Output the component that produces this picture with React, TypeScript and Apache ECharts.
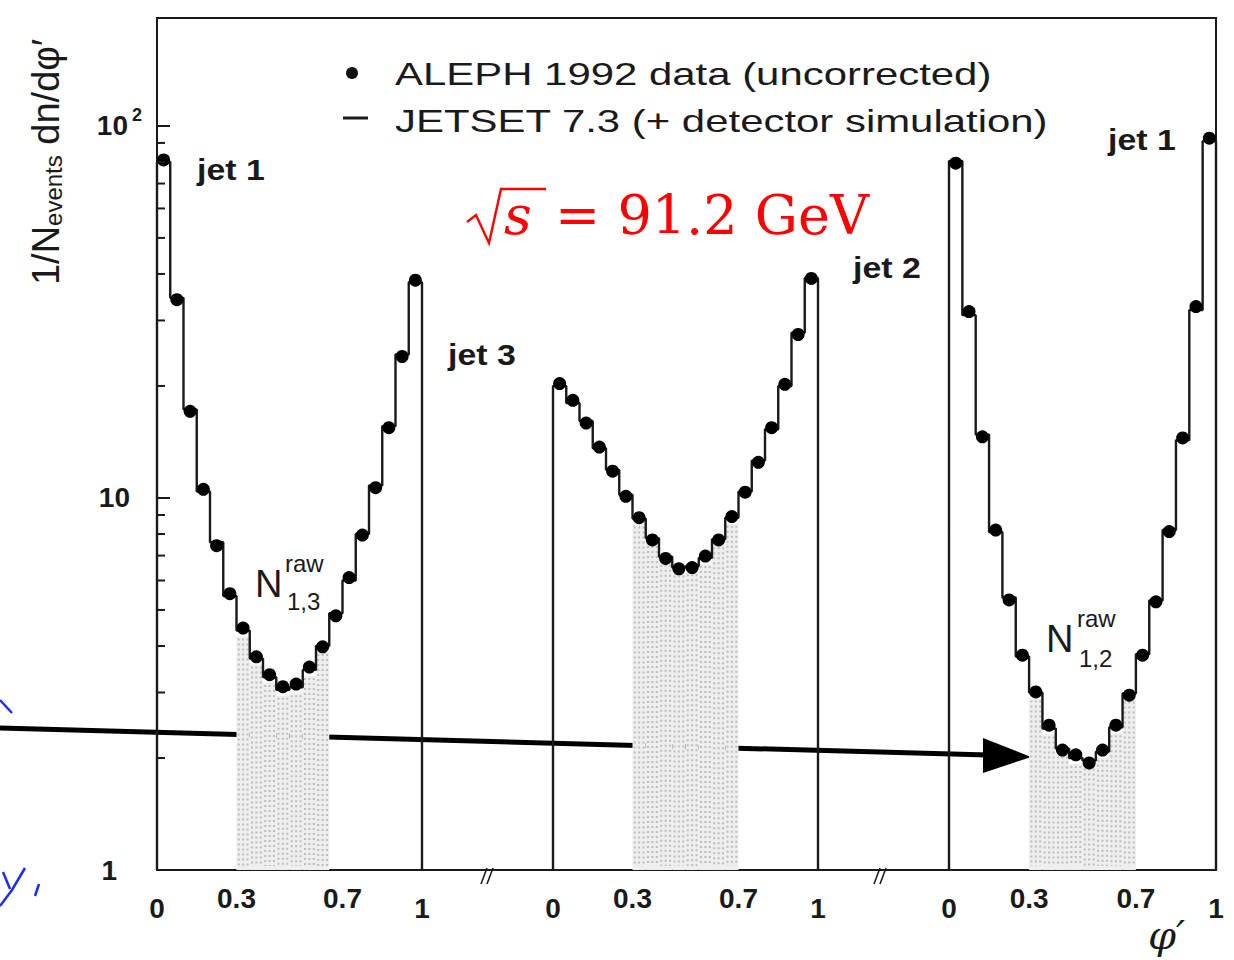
import React, { useEffect, useRef } from "react";
import * as echarts from "echarts";

// ---------- data ----------
const BIN_COUNT = 20;
const xTickValues = [0, 0.3, 0.7, 1];
const xTickLabels = ["0", "0.3", "0.7", "1"];
const yMin = 1;
const yMax = 195;
const yMajorTickValues = [10, 100];
const yMinorValues = [2, 3, 4, 5, 6, 7, 8, 9, 20, 30, 40, 50, 60, 70, 80, 90];

// panel 1 : N_{1,3}  (jet 1 -> jet 3)
const dataP1 = [81.0, 34.1, 17.1, 10.55, 7.44, 5.53, 4.47, 3.74, 3.35, 3.11, 3.16, 3.51, 3.98, 4.82, 6.11, 7.95, 10.66, 15.45, 24.0, 38.5];
const mcP1 = [80.0, 34.5, 17.3, 10.4, 7.6, 5.45, 4.4, 3.7, 3.3, 3.05, 3.1, 3.45, 4.0, 4.9, 6.0, 8.0, 10.8, 15.6, 24.3, 38.0];
const bandP1 = [6, 12];

// panel 2 : jet 3 -> jet 2
const dataP2 = [20.3, 18.3, 15.9, 13.7, 11.8, 10.1, 8.85, 7.71, 6.88, 6.45, 6.5, 6.98, 7.71, 8.91, 10.36, 12.47, 15.45, 20.2, 27.5, 38.9];
const mcP2 = [20.0, 18.0, 16.1, 13.6, 11.9, 10.2, 8.8, 7.8, 6.95, 6.5, 6.55, 6.9, 7.75, 8.85, 10.4, 12.6, 15.3, 20.0, 27.8, 39.0];
const bandP2 = [6, 13];

// panel 3 : N_{1,2} (jet 2 -> jet 1)
const dataP3 = [79.4, 31.7, 14.6, 8.2, 5.32, 3.78, 3.01, 2.45, 2.1, 2.04, 1.94, 2.1, 2.45, 2.95, 3.78, 5.26, 8.12, 14.5, 32.7, 92.7];
const mcP3 = [80.5, 31.0, 14.8, 8.1, 5.4, 3.75, 3.0, 2.4, 2.12, 2.0, 1.97, 2.08, 2.42, 2.98, 3.8, 5.3, 8.2, 14.3, 32.0, 91.0];
const bandP3 = [6, 13];

const legendDataText = "ALEPH 1992 data (uncorrected)";
const legendMcText = "JETSET 7.3 (+ detector simulation)";

// ---------- layout ----------
const panelLeft = [157, 553, 949];
const panelWidth = [265, 265, 267];
const plotTop = 18;
const plotHeight = 852;
const INK = "#1a1a1a";
const SANS = "Liberation Sans, Arial, sans-serif";
const SERIF = "DejaVu Serif, serif";

const panels = [
  { data: dataP1, mc: mcP1, band: bandP1 },
  { data: dataP2, mc: mcP2, band: bandP2 },
  { data: dataP3, mc: mcP3, band: bandP3 },
];

const binW = 1 / BIN_COUNT;

function histPoints(mc: number[]) {
  const pts: number[][] = [[0, yMin]];
  mc.forEach((v, i) => {
    pts.push([i * binW, v]);
    pts.push([(i + 1) * binW, v]);
  });
  pts.push([1, yMin]);
  return pts;
}

function fmtX(v: number) {
  const idx = xTickValues.findIndex((t) => Math.abs(t - v) < 1e-6);
  if (idx < 0) return "";
  const s = xTickLabels[idx];
  if (idx === 0 || idx === xTickValues.length - 1) return "{lo|" + s + "}";
  return s;
}

function fmtY(v: number) {
  const k = Math.log10(v);
  if (Math.abs(k - Math.round(k)) > 1e-6) return "";
  const e = Math.round(k);
  if (e === 0) return "{p25|1}";
  if (e === 1) return "{p12|10}";
  if (e === 2) return "10{s|2}";
  return "";
}

function buildOption() {
  const grid: any[] = [
    {
      left: panelLeft[0],
      top: plotTop,
      width: panelLeft[2] + panelWidth[2] - panelLeft[0],
      height: plotHeight,
      show: true,
      borderColor: INK,
      borderWidth: 2,
      backgroundColor: "transparent",
    },
  ];
  const xAxis: any[] = [{ type: "value", gridIndex: 0, show: false, min: 0, max: 1 }];
  const yAxis: any[] = [{ type: "value", gridIndex: 0, show: false, min: 0, max: 1 }];
  const series: any[] = [];

  panels.forEach((p, k) => {
    const gi = k + 1;
    grid.push({ left: panelLeft[k], top: plotTop, width: panelWidth[k], height: plotHeight, show: false });
    xAxis.push({
      type: "value",
      gridIndex: gi,
      min: 0,
      max: 1,
      interval: 0.1,
      axisLine: { show: false },
      axisTick: { show: false },
      splitLine: { show: false },
      axisLabel: {
        formatter: fmtX,
        fontFamily: SANS,
        fontWeight: "bold",
        fontSize: 28,
        color: INK,
        margin: 14,
        rich: { lo: { padding: [10, 0, 0, 0], fontFamily: SANS, fontWeight: "bold", fontSize: 28, color: INK } },
      },
    });
    yAxis.push({
      type: "log",
      logBase: 10,
      gridIndex: gi,
      min: yMin,
      max: yMax,
      axisLine: { show: k === 0, lineStyle: { color: INK, width: 2 } },
      splitLine: { show: false },
      minorTick: { show: false },
      axisTick: { show: k === 0, inside: true, length: 13, lineStyle: { color: INK, width: 2 } },
      axisLabel: {
        show: k === 0,
        formatter: fmtY,
        fontFamily: SANS,
        fontWeight: "bold",
        fontSize: 28,
        color: INK,
        margin: 15,
        rich: {
          p25: { padding: [0, 25, 0, 0], fontFamily: SANS, fontWeight: "bold", fontSize: 28, color: INK },
          p12: { padding: [0, 12, 0, 0], fontFamily: SANS, fontWeight: "bold", fontSize: 28, color: INK },
          s: { fontSize: 18, verticalAlign: "top", padding: [0, 0, 22, 4], fontFamily: SANS, fontWeight: "bold", color: INK },
        },
      },
    });

    // gray simulation band (dotted texture) + (panel 1) minor log ticks
    const bandData: number[][] = [];
    for (let i = p.band[0]; i <= p.band[1]; i++) bandData.push([i * binW, (i + 1) * binW, p.mc[i]]);
    series.push({
      type: "custom",
      xAxisIndex: gi,
      yAxisIndex: gi,
      z: 1,
      silent: true,
      data: bandData,
      renderItem: (params: any, api: any) => {
        const a = api.coord([api.value(0), yMin]);
        const b = api.coord([api.value(1), api.value(2)]);
        const top = b[1] + 6;
        const children: any[] = [
          { type: "rect", shape: { x: a[0], y: top, width: b[0] - a[0], height: a[1] - top }, style: { fill: "#eeeeee" } },
        ];
        const n = 3;
        for (let j = 0; j < n; j++) {
          const xx = a[0] + ((j + 0.5) * (b[0] - a[0])) / n;
          children.push({
            type: "line",
            shape: { x1: xx, y1: top + 2, x2: xx, y2: a[1] - 4 },
            style: { stroke: "#bdbdbd", lineWidth: 2, lineDash: [2, 3] },
          });
        }
        return { type: "group", children };
      },
    });

    // JETSET histogram
    series.push({
      type: "line",
      name: "JETSET 7.3",
      xAxisIndex: gi,
      yAxisIndex: gi,
      z: 3,
      data: histPoints(p.mc),
      showSymbol: false,
      symbol: "none",
      lineStyle: { color: INK, width: 2.4 },
      clip: false,
      silent: true,
    });

    // ALEPH data points
    series.push({
      type: "scatter",
      name: "ALEPH 1992",
      xAxisIndex: gi,
      yAxisIndex: gi,
      z: 4,
      symbol: "circle",
      symbolSize: 13,
      itemStyle: { color: "#000", opacity: 1 },
      data: p.data.map((v, i) => [(i + 0.5) * binW, v]),
      silent: true,
    });
  });

  // minor log ticks (inside the left axis)
  series.push({
    type: "custom",
    xAxisIndex: 1,
    yAxisIndex: 1,
    z: 10,
    silent: true,
    clip: false,
    encode: { x: 0, y: 1 },
    data: yMinorValues.map((v) => [0.015, v]),
    renderItem: (params: any, api: any) => {
      const pt = api.coord([0, api.value(1)]);
      return {
        type: "rect",
        shape: { x: pt[0], y: pt[1] - 1, width: 8, height: 2 },
        style: { fill: INK },
      };
    },
  });

  const red = "#ff0000";
  const graphic: any[] = [
    // y axis title
    {
      type: "text",
      x: 46,
      y: 162,
      rotation: Math.PI / 2,
      style: {
        text: "1/N{sub|events} dn/dφ′",
        rich: { sub: { fontSize: 24, verticalAlign: "bottom", fontFamily: SANS, fill: INK } },
        fontSize: 38,
        fontFamily: SANS,
        fill: INK,
        align: "center",
        verticalAlign: "middle",
      },
    },
    // legend
    { type: "circle", shape: { cx: 352, cy: 73, r: 6 }, style: { fill: "#111" } },
    { type: "text", x: 395, y: 74, scaleX: 1.31, style: { text: legendDataText, fontSize: 32, fontFamily: SANS, fill: INK, verticalAlign: "middle" } },
    { type: "line", shape: { x1: 343, y1: 118, x2: 368, y2: 118 }, style: { stroke: INK, lineWidth: 3 } },
    { type: "text", x: 395, y: 121, scaleX: 1.31, style: { text: legendMcText, fontSize: 32, fontFamily: SANS, fill: INK, verticalAlign: "middle" } },
    // jet labels
    { type: "text", x: 197, y: 170, scaleX: 1.13, style: { text: "jet 1", fontSize: 30, fontWeight: "bold", fontFamily: SANS, fill: INK, verticalAlign: "middle" } },
    { type: "text", x: 448, y: 355, scaleX: 1.13, style: { text: "jet 3", fontSize: 30, fontWeight: "bold", fontFamily: SANS, fill: INK, verticalAlign: "middle" } },
    { type: "text", x: 853, y: 268, scaleX: 1.13, style: { text: "jet 2", fontSize: 30, fontWeight: "bold", fontFamily: SANS, fill: INK, verticalAlign: "middle" } },
    { type: "text", x: 1108, y: 140, scaleX: 1.13, style: { text: "jet 1", fontSize: 30, fontWeight: "bold", fontFamily: SANS, fill: INK, verticalAlign: "middle" } },
    // N^raw labels
    { type: "text", x: 255, y: 584, style: { text: "N", fontSize: 38, fontFamily: SANS, fill: INK, verticalAlign: "middle" } },
    { type: "text", x: 285, y: 563, style: { text: "raw", fontSize: 24, fontFamily: SANS, fill: INK, verticalAlign: "middle" } },
    { type: "text", x: 287, y: 601, style: { text: "1,3", fontSize: 24, fontFamily: SANS, fill: INK, verticalAlign: "middle" } },
    { type: "text", x: 1046, y: 639, style: { text: "N", fontSize: 38, fontFamily: SANS, fill: INK, verticalAlign: "middle" } },
    { type: "text", x: 1077, y: 618, style: { text: "raw", fontSize: 24, fontFamily: SANS, fill: INK, verticalAlign: "middle" } },
    { type: "text", x: 1079, y: 658, style: { text: "1,2", fontSize: 24, fontFamily: SANS, fill: INK, verticalAlign: "middle" } },
    // sqrt(s) = 91.2 GeV
    {
      type: "polyline",
      shape: { points: [[467, 222], [476, 215], [489, 243], [501, 189], [546, 189]] },
      style: { stroke: red, lineWidth: 2.4, fill: null },
    },
    { type: "text", x: 504, y: 215, style: { text: "s", fontSize: 54, fontStyle: "italic", fontFamily: SERIF, fill: red, verticalAlign: "middle" } },
    { type: "text", x: 555, y: 215, style: { text: "= 91.2 GeV", fontSize: 54, fontFamily: SERIF, fill: red, verticalAlign: "middle" } },
    // axis breaks
    { type: "line", shape: { x1: 481, y1: 884, x2: 487, y2: 868 }, style: { stroke: INK, lineWidth: 1.6 } },
    { type: "line", shape: { x1: 487, y1: 884, x2: 493, y2: 868 }, style: { stroke: INK, lineWidth: 1.6 } },
    { type: "line", shape: { x1: 874, y1: 884, x2: 880, y2: 868 }, style: { stroke: INK, lineWidth: 1.6 } },
    { type: "line", shape: { x1: 880, y1: 884, x2: 886, y2: 868 }, style: { stroke: INK, lineWidth: 1.6 } },
    // x axis name
    { type: "text", x: 1148, y: 935, style: { text: "φ′", fontSize: 40, fontStyle: "italic", fontFamily: SERIF, fill: INK, verticalAlign: "middle" } },
    // annotation arrow
    { type: "line", shape: { x1: 0, y1: 728, x2: 988, y2: 755 }, style: { stroke: "#000", lineWidth: 5 } },
    { type: "polygon", shape: { points: [[1031, 757], [983, 738], [983, 773]] }, style: { fill: "#000" } },
    // handwritten blue marks
    { type: "polyline", shape: { points: [[0, 700], [12, 713]] }, style: { stroke: "#1e2cf0", lineWidth: 2.5, fill: null } },
    { type: "polyline", shape: { points: [[3, 872], [10, 889]] }, style: { stroke: "#1e2cf0", lineWidth: 2.5, fill: null } },
    { type: "polyline", shape: { points: [[25, 868], [12, 890], [0, 906]] }, style: { stroke: "#1e2cf0", lineWidth: 2.5, fill: null } },
    { type: "polyline", shape: { points: [[39, 884], [35, 896]] }, style: { stroke: "#1e2cf0", lineWidth: 2.5, fill: null } },
  ];

  return {
    animation: false,
    backgroundColor: "#ffffff",
    textStyle: { fontFamily: SANS },
    grid,
    xAxis,
    yAxis,
    series,
    graphic,
  };
}

export default function App() {
  const ref = useRef<HTMLDivElement>(null);
  useEffect(() => {
    if (!ref.current) return;
    const chart = echarts.init(ref.current, undefined, { renderer: "svg" });
    chart.setOption(buildOption() as any);
    return () => chart.dispose();
  }, []);
  return <div ref={ref} style={{ position: "fixed", left: 0, top: 0, width: 1234, height: 960 }} />;
}
